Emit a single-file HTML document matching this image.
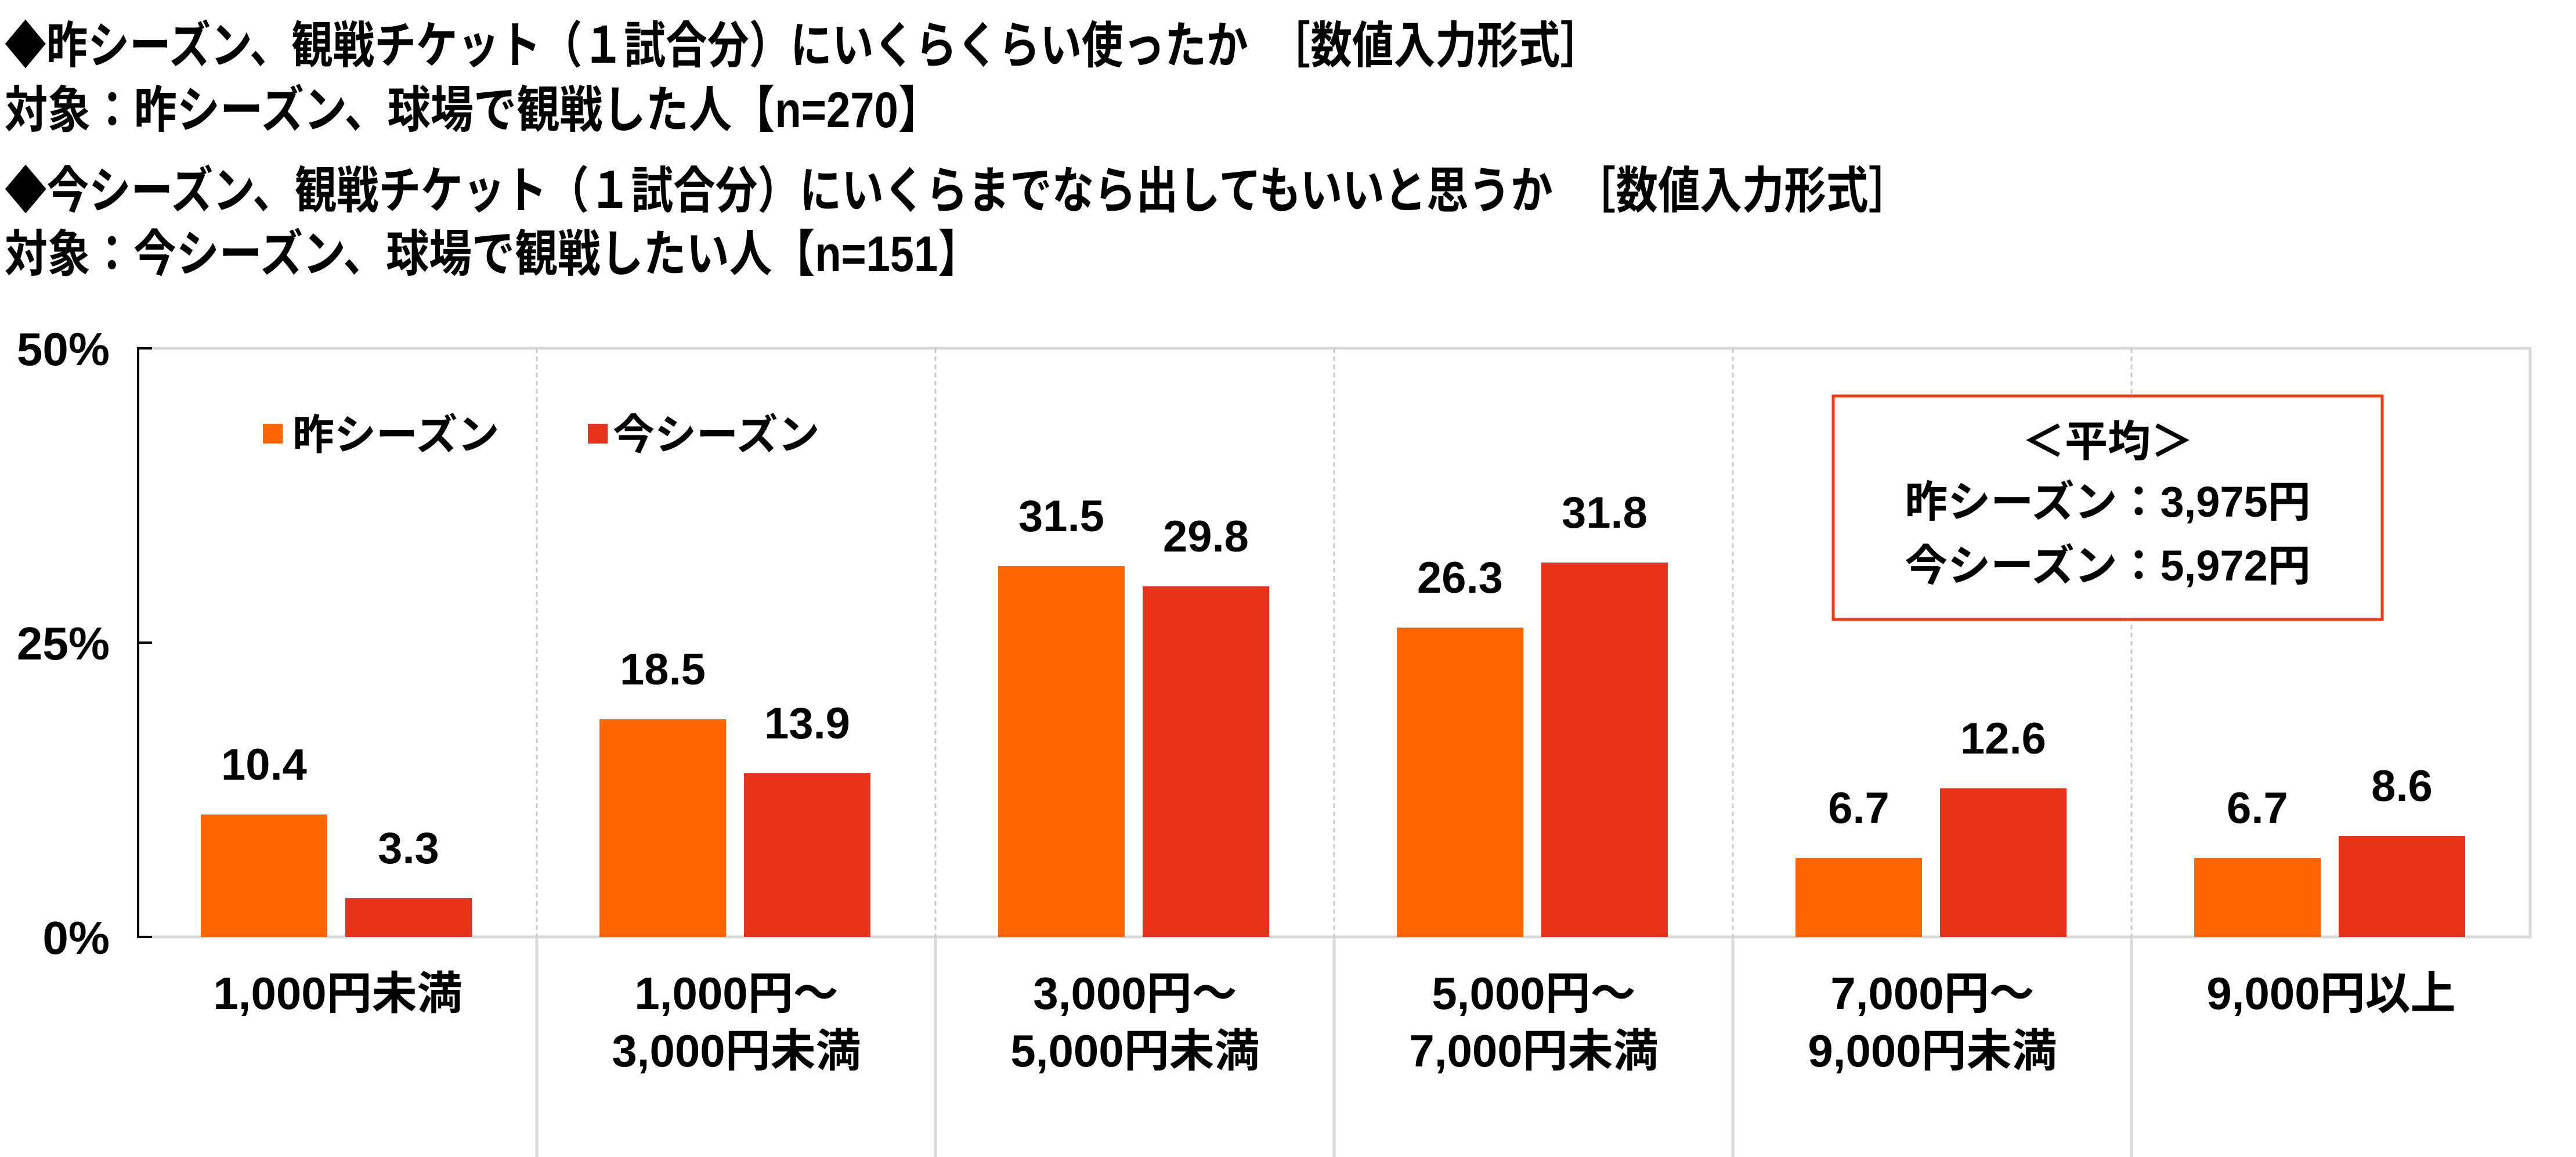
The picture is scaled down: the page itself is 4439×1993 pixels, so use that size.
<!DOCTYPE html>
<html><head><meta charset="utf-8"><style>
html,body{margin:0;padding:0;background:#fff;}
svg{display:block;}
text{font-family:"Liberation Sans","Noto Sans CJK JP",sans-serif;font-weight:bold;fill:#000;}
</style></head><body>
<svg width="4439" height="1993" viewBox="0 0 4439 1993" xmlns="http://www.w3.org/2000/svg">
<rect width="4439" height="1993" fill="#fff"/>
<!-- titles -->
<g font-size="86">
<text x="8" y="108" textLength="2752" lengthAdjust="spacingAndGlyphs">◆昨シーズン、観戦チケット（１試合分）にいくらくらい使ったか　［数値入力形式］</text>
<text x="8" y="219" textLength="1614" lengthAdjust="spacingAndGlyphs">対象：昨シーズン、球場で観戦した人【n=270】</text>
<text x="8" y="358" textLength="3284" lengthAdjust="spacingAndGlyphs">◆今シーズン、観戦チケット（１試合分）にいくらまでなら出してもいいと思うか　［数値入力形式］</text>
<text x="8" y="467" textLength="1682" lengthAdjust="spacingAndGlyphs">対象：今シーズン、球場で観戦したい人【n=151】</text>
</g>
<!-- plot frame -->
<rect x="238" y="600" width="4122" height="1014" fill="none" stroke="#d9d9d9" stroke-width="5"/>
<g stroke="#c8c8c8" stroke-width="3" stroke-dasharray="8,6">
<line x1="925" y1="600" x2="925" y2="1614"/><line x1="1612" y1="600" x2="1612" y2="1614"/>
<line x1="2299" y1="600" x2="2299" y2="1614"/><line x1="2986" y1="600" x2="2986" y2="1614"/>
<line x1="3673" y1="600" x2="3673" y2="1614"/>
</g>
<g stroke="#d9d9d9" stroke-width="5">
<line x1="925" y1="1614" x2="925" y2="1993"/><line x1="1612" y1="1614" x2="1612" y2="1993"/>
<line x1="2299" y1="1614" x2="2299" y2="1993"/><line x1="2986" y1="1614" x2="2986" y2="1993"/>
<line x1="3673" y1="1614" x2="3673" y2="1993"/>
</g>
<g stroke="#000" stroke-width="4">
<line x1="238" y1="598" x2="238" y2="1616"/>
<line x1="238" y1="600" x2="262" y2="600"/><line x1="238" y1="1107" x2="262" y2="1107"/><line x1="238" y1="1614" x2="262" y2="1614"/>
</g>
<g font-size="80" text-anchor="end">
<text x="189" y="629">50%</text><text x="189" y="1136">25%</text><text x="189" y="1643">0%</text>
</g>
<!-- bars -->
<g fill="#ff6600">
<rect x="346" y="1403" width="218" height="211"/>
<rect x="1033" y="1239" width="218" height="375"/>
<rect x="1720" y="975" width="218" height="639"/>
<rect x="2407" y="1081" width="218" height="533"/>
<rect x="3094" y="1478" width="218" height="136"/>
<rect x="3781" y="1478" width="218" height="136"/>
</g>
<g fill="#e6331a">
<rect x="595" y="1547" width="218" height="67"/>
<rect x="1282" y="1332" width="218" height="282"/>
<rect x="1969" y="1010" width="218" height="604"/>
<rect x="2656" y="969" width="218" height="645"/>
<rect x="3343" y="1358" width="218" height="256"/>
<rect x="4030" y="1440" width="218" height="174"/>
</g>
<g font-size="76" text-anchor="middle">
<text x="455" y="1343">10.4</text><text x="704" y="1487">3.3</text>
<text x="1142" y="1179">18.5</text><text x="1391" y="1272">13.9</text>
<text x="1829" y="915">31.5</text><text x="2078" y="950">29.8</text>
<text x="2516" y="1021">26.3</text><text x="2765" y="909">31.8</text>
<text x="3203" y="1418">6.7</text><text x="3452" y="1298">12.6</text>
<text x="3890" y="1418">6.7</text><text x="4139" y="1380">8.6</text>
</g>
<!-- legend -->
<rect x="453" y="730" width="34" height="34" fill="#ff6600"/>
<text x="504" y="774" font-size="72">昨シーズン</text>
<rect x="1013" y="730" width="34" height="34" fill="#e6331a"/>
<text x="1056" y="774" font-size="72">今シーズン</text>
<!-- average box -->
<rect x="3159" y="682" width="946" height="385" fill="#fff" stroke="#f03c14" stroke-width="5"/>
<g font-size="74" text-anchor="middle">
<text x="3632" y="786">＜平均＞</text>
<text x="3632" y="890">昨シーズン：3,975円</text>
<text x="3632" y="1000">今シーズン：5,972円</text>
</g>
<!-- x labels -->
<g font-size="78" text-anchor="middle">
<text x="582" y="1738">1,000円未満</text>
<text x="1269" y="1738">1,000円～</text><text x="1269" y="1837">3,000円未満</text>
<text x="1956" y="1738">3,000円～</text><text x="1956" y="1837">5,000円未満</text>
<text x="2643" y="1738">5,000円～</text><text x="2643" y="1837">7,000円未満</text>
<text x="3330" y="1738">7,000円～</text><text x="3330" y="1837">9,000円未満</text>
<text x="4017" y="1738">9,000円以上</text>
</g>
</svg>
</body></html>
